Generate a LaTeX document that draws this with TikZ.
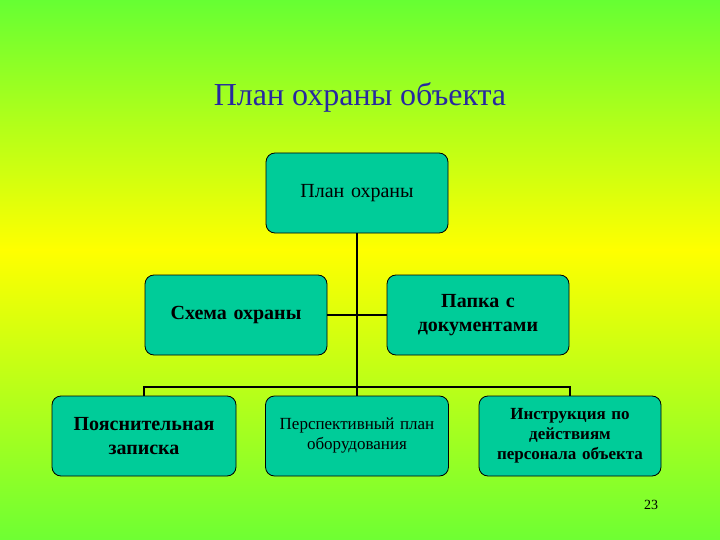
\documentclass[tikz,border=0pt]{standalone}
\usepackage{fontspec}
\setmainfont{Liberation Serif}
\definecolor{gtop}{RGB}{102,255,51}
\definecolor{gmid}{RGB}{255,255,0}
\definecolor{gbot}{RGB}{110,255,51}
\definecolor{box}{RGB}{0,204,153}
\definecolor{ttl}{RGB}{40,40,160}
\begin{document}
\begin{tikzpicture}[x=1pt,y=-1pt,
  bx/.style={draw=black,fill=box,rounded corners=9pt,minimum width=182pt,minimum height=80pt,line width=0.8pt,align=center,text width=178pt,inner sep=2pt},
  ln/.style={line width=2pt}]
\useasboundingbox (0,0) rectangle (720,540);
\shade[top color=gtop,bottom color=gmid] (0,0) rectangle (720,250);
\shade[top color=gmid,bottom color=gbot] (0,249.5) rectangle (720,540);
\node[font=\fontsize{32}{38}\selectfont,text=ttl] (title) at (360,97) {План охраны объекта};
\node[bx,font=\fontsize{20}{24}\selectfont] (top) at (357,193) {План охраны};
\node[bx,font=\bfseries\fontsize{20}{24}\selectfont] (sch) at (236,315) {Схема охраны};
\node[bx,font=\bfseries\fontsize{20}{24}\selectfont] (pap) at (478,315) {Папка с\\документами};
\node[bx,font=\bfseries\fontsize{20}{24}\selectfont,minimum width=184pt] (poy) at (144,436) {Пояснительная\\записка};
\node[bx,font=\fontsize{17}{20}\selectfont,minimum width=183pt] (per) at (357,436) {Перспективный план\\оборудования\\[10pt]};
\node[bx,font=\bfseries\fontsize{17}{20}\selectfont,minimum width=181pt] (ins) at (570,436) {Инструкция по\\действиям\\персонала объекта};
\node[font=\fontsize{14}{16}\selectfont] (num) at (651,505) {23};
\coordinate (bar) at (357,387);
\draw[ln] (top.south) -- (bar);
\draw[ln] (sch.east) -- (pap.west);
\draw[ln] (poy.north) |- (bar) -| (ins.north);
\draw[ln] (bar) -- (per.north);
\end{tikzpicture}
\end{document}
